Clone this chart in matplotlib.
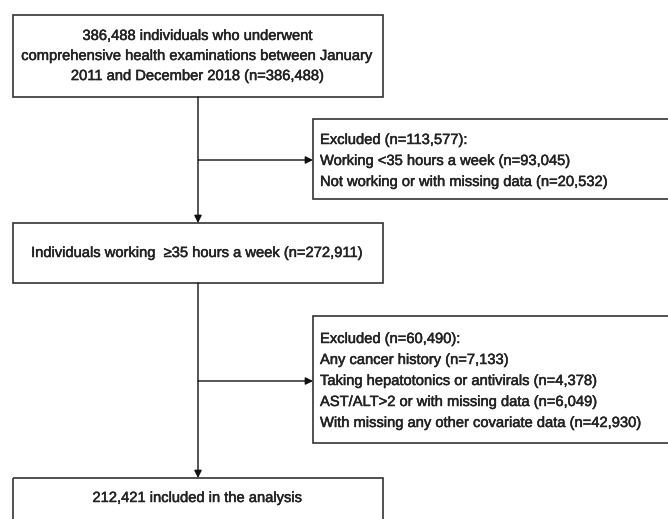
import matplotlib.pyplot as plt
from matplotlib.patches import Rectangle
import matplotlib.patheffects as pe

plt.rcParams['font.family'] = ['Liberation Sans', 'DejaVu Sans']

# flow chart texts
main_boxes = [
    "386,488 individuals who underwent\ncomprehensive health examinations between January\n2011 and December 2018 (n=386,488)",
    "Individuals working  \u226535 hours a week (n=272,911)",
    "212,421 included in the analysis",
]
excl_1 = [
    "Excluded (n=113,577):",
    "Working <35 hours a week (n=93,045)",
    "Not working or with missing data (n=20,532)",
]
excl_2 = [
    "Excluded (n=60,490):",
    "Any cancer history (n=7,133)",
    "Taking hepatotonics or antivirals (n=4,378)",
    "AST/ALT>2 or with missing data (n=6,049)",
    "With missing any other covariate data (n=42,930)",
]

W, H = 668, 519
fig = plt.figure(figsize=(W / 100, H / 100), dpi=100)
ax = fig.add_axes([0, 0, 1, 1])
ax.set_xlim(0, W)
ax.set_ylim(H, 0)
ax.axis('off')

ec = '#333333'
tc = '#222222'
fs = 10.6
lw = 1.2
heavy = [pe.withStroke(linewidth=0.35, foreground=tc)]


def box(x0, y0, x1, y1):
    ax.add_patch(Rectangle((x0, y0), x1 - x0, y1 - y0, fill=False, ec=ec, lw=lw))


def label(x, y, s, ha='left', **kw):
    ax.text(x, y, s, ha=ha, va='center', fontsize=fs, color=tc,
            path_effects=heavy, **kw)


def arrow(x0, y0, x1, y1):
    ax.annotate('', xy=(x1, y1), xytext=(x0, y0),
                arrowprops=dict(arrowstyle='-|>', color='#111111', lw=1.0,
                                mutation_scale=11, shrinkA=0, shrinkB=0))


cx = 198
# main boxes
box(13, 15, 383, 97)
label(cx, 56, main_boxes[0], ha='center', linespacing=1.55)
box(13, 223, 383, 283)
label(cx, 253, main_boxes[1], ha='center')
box(13, 478, 383, 560)
label(cx, 498, main_boxes[2], ha='center')

# exclusion boxes
box(313, 119, 669, 199)
for i, t in enumerate(excl_1):
    label(320, 140 + i * 21, t)
box(313, 316, 669, 443)
for i, t in enumerate(excl_2):
    label(320, 339 + i * 21, t)

# connectors
arrow(cx, 97, cx, 223)
arrow(cx, 160, 313, 160)
arrow(cx, 283, cx, 478)
arrow(cx, 381, 313, 381)

fig.savefig('out.png', dpi=100, facecolor='white')
